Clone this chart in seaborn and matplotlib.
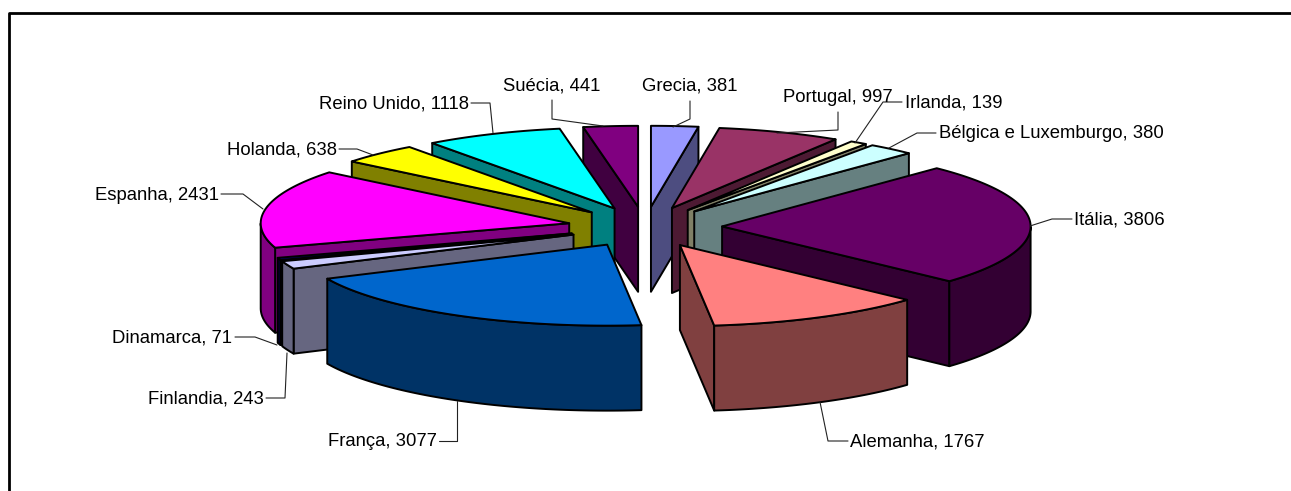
import numpy as np
import matplotlib
matplotlib.use("Agg")
import matplotlib.pyplot as plt
from matplotlib.colors import to_rgb
from matplotlib.patches import Polygon
import seaborn as sns

countries = ["Grecia", "Portugal", "Irlanda", "Bélgica e Luxemburgo", "Itália", "Alemanha",
             "França", "Finlandia", "Dinamarca", "Espanha", "Holanda", "Reino Unido", "Suécia"]
values = [381, 997, 139, 380, 3806, 1767, 3077, 243, 71, 2431, 638, 1118, 441]
top_colors = ["#9999FF", "#993366", "#FFFFCC", "#CCFFFF", "#660066", "#FF8080", "#0066CC",
              "#CCCCFF", "#000080", "#FF00FF", "#FFFF00", "#00FFFF", "#800080"]

# Label anchor (text edge) and leader path, in pixels of the figure
label_pos = [(642, 86, "left"), (783, 97, "left"), (905, 103, "left"), (939, 134, "left"),
             (1074, 220, "left"), (850, 442, "left"), (437, 442, "right"), (264, 399, "right"),
             (232, 338, "right"), (219, 195, "right"), (337, 150, "right"), (469, 104, "right"),
             (600, 86, "right")]
leaders = [
    [(690, 101), (690, 119), (673, 127)],
    [(838, 112), (838, 130), (777, 133)],
    [(902, 102), (883, 102), (855, 143)],
    [(936, 133), (917, 133), (889, 148)],
    [(1072, 219), (1052, 219), (1030, 226)],
    [(848, 441), (828, 441), (820, 402)],
    [(439, 441), (457, 441), (457, 401)],
    [(266, 398), (285, 398), (287, 353)],
    [(235, 337), (255, 337), (277, 345)],
    [(221, 194), (243, 194), (263, 209)],
    [(339, 149), (357, 149), (373, 155)],
    [(471, 103), (490, 103), (493, 133)],
    [(552, 100), (552, 119), (603, 126)],
]

sns.set_theme(style="white", rc={"font.family": ["Liberation Sans", "DejaVu Sans"]})
palette = sns.color_palette(top_colors)

WIDTH, HEIGHT = 1291, 491
CX, CY = 645, 227        # pie centre
RX, RY = 308.5, 81       # top-face ellipse semi-axes
DEPTH = 85               # extrusion height
EXPLODE = 0.25           # radial offset as a share of the radius

fig = plt.figure(figsize=(WIDTH / 100, HEIGHT / 100), dpi=100)
ax = fig.add_axes([0, 0, 1, 1])
ax.set_xlim(0, WIDTH)
ax.set_ylim(HEIGHT, 0)
ax.axis("off")

# Chart border: only the top and left edges sit inside the frame
ax.plot([8.5, 8.5, 1291], [491, 12.5, 12.5], color="black", lw=2, solid_capstyle="butt", zorder=0)

fractions = np.array(values) / np.sum(values)
ends = np.cumsum(fractions) * 2 * np.pi
starts = ends - fractions * 2 * np.pi
mids = (starts + ends) / 2


def rim(theta, apex):
    return np.column_stack([apex[0] + RX * np.sin(theta), apex[1] - RY * np.cos(theta)])


def face(points, color, z):
    ax.add_patch(Polygon(points, closed=True, facecolor=color, edgecolor="black",
                         linewidth=1.4, joinstyle="round", zorder=z))


def down(points):
    return np.asarray(points) + [0, DEPTH]


# Paint from the back of the pie toward the viewer
order = np.argsort(-np.abs(np.pi - mids))
for z, i in enumerate(order, start=2):
    t0, t1 = starts[i], ends[i]
    apex = np.array([CX + EXPLODE * RX * np.sin(mids[i]), CY - EXPLODE * RY * np.cos(mids[i])])
    top = np.asarray(to_rgb(palette[i]))
    side = tuple(top * 0.5)
    thetas = np.linspace(t0, t1, 160)
    arc = rim(thetas, apex)

    if np.sin(t0) < 0:
        wall = np.vstack([apex, arc[0]])
        face(np.vstack([wall, down(wall)[::-1]]), side, z)
    if np.sin(t1) > 0:
        wall = np.vstack([apex, arc[-1]])
        face(np.vstack([wall, down(wall)[::-1]]), side, z)
    front = np.cos(thetas) <= 0
    if front.any():
        band = arc[front]
        face(np.vstack([band, down(band)[::-1]]), side, z)
    face(np.vstack([apex, arc]), top, z)

# Data labels with their leader lines
for i, (name, value) in enumerate(zip(countries, values)):
    x, y, ha = label_pos[i]
    ax.text(x, y, f"{name}, {value}", ha=ha, va="center", fontsize=13.3, color="black", zorder=40)
    pts = np.array(leaders[i])
    ax.plot(pts[:, 0], pts[:, 1], color="#222222", lw=0.8, zorder=30)

fig.savefig("out.png", dpi=100)
